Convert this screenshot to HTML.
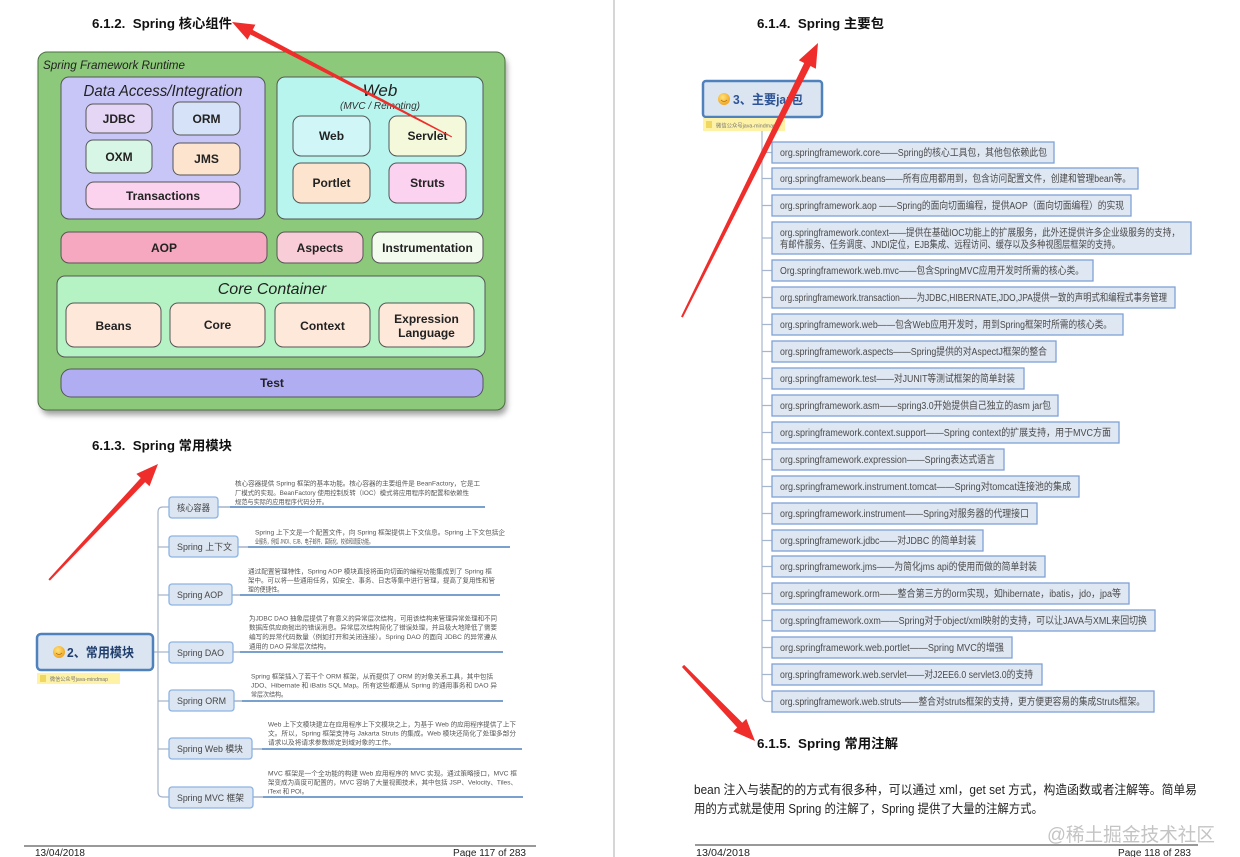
<!DOCTYPE html>
<html><head><meta charset="utf-8"><style>
html,body{margin:0;padding:0;background:#fff;}
svg{display:block;}
text{font-family:"Liberation Sans","Noto Sans CJK SC",sans-serif;}
</style></head><body>
<svg width="1240" height="857" viewBox="0 0 1240 857" xmlns="http://www.w3.org/2000/svg">
<defs>
<filter id="sh" x="-10%" y="-10%" width="120%" height="125%"><feGaussianBlur stdDeviation="3"/></filter>
<radialGradient id="emo" cx="40%" cy="35%" r="65%"><stop offset="0" stop-color="#ffe27a"/><stop offset="1" stop-color="#f0a623"/></radialGradient>
</defs>
<rect width="1240" height="857" fill="#fff"/>
<!-- page divider -->
<line x1="614" y1="0" x2="614" y2="857" stroke="#c8c8c8" stroke-width="1.5"/>

<!-- ============ LEFT PAGE ============ -->
<text x="92" y="28" font-weight="bold" font-size="13" fill="#111" textLength="140" lengthAdjust="spacingAndGlyphs">6.1.2.&#160; Spring 核心组件</text>

<!-- framework diagram -->
<rect x="41" y="57" width="466" height="358" rx="9" fill="#555" opacity="0.55" filter="url(#sh)"/>
<rect x="38" y="52" width="467" height="358" rx="9" fill="#8dc97b" stroke="#4d6f43" stroke-width="1"/>
<text x="43" y="69" font-style="italic" font-size="12" fill="#222" textLength="142" lengthAdjust="spacingAndGlyphs">Spring Framework Runtime</text>

<rect x="61" y="77" width="204" height="142" rx="8" fill="#c8c6f6" stroke="#555"/>
<text x="163" y="96" text-anchor="middle" font-style="italic" font-size="16" fill="#222" textLength="159" lengthAdjust="spacingAndGlyphs">Data Access/Integration</text>
<g font-weight="bold" font-size="12" fill="#222" text-anchor="middle">
<rect x="86" y="104" width="66" height="29" rx="7" fill="#e5d6f6" stroke="#555"/><text x="119" y="123">JDBC</text>
<rect x="173" y="102" width="67" height="33" rx="7" fill="#d6e2f8" stroke="#555"/><text x="206.5" y="123">ORM</text>
<rect x="86" y="140" width="66" height="33" rx="7" fill="#d8f6e5" stroke="#555"/><text x="119" y="161">OXM</text>
<rect x="173" y="143" width="67" height="32" rx="7" fill="#fce4cf" stroke="#555"/><text x="206.5" y="163">JMS</text>
<rect x="86" y="182" width="154" height="27" rx="8" fill="#fbd3ef" stroke="#555"/><text x="163" y="200">Transactions</text>
</g>

<rect x="277" y="77" width="206" height="142" rx="8" fill="#b8f5ee" stroke="#555"/>
<text x="380" y="96" text-anchor="middle" font-style="italic" font-size="17" fill="#222">Web</text>
<text x="380" y="109" text-anchor="middle" font-style="italic" font-size="10" fill="#333">(MVC / Remoting)</text>
<g font-weight="bold" font-size="12" fill="#222" text-anchor="middle">
<rect x="293" y="116" width="77" height="40" rx="8" fill="#d0f6f7" stroke="#555"/><text x="331.5" y="140">Web</text>
<rect x="389" y="116" width="77" height="40" rx="8" fill="#f4f9dc" stroke="#555"/><text x="427.5" y="140">Servlet</text>
<rect x="293" y="163" width="77" height="40" rx="8" fill="#fce4cf" stroke="#555"/><text x="331.5" y="187">Portlet</text>
<rect x="389" y="163" width="77" height="40" rx="8" fill="#fbd2ef" stroke="#555"/><text x="427.5" y="187">Struts</text>

<rect x="61" y="232" width="206" height="31" rx="8" fill="#f5a8bf" stroke="#555"/><text x="164" y="252">AOP</text>
<rect x="277" y="232" width="86" height="31" rx="8" fill="#f9cdd7" stroke="#555"/><text x="320" y="252">Aspects</text>
<rect x="372" y="232" width="111" height="31" rx="8" fill="#f3fbee" stroke="#555"/><text x="427.5" y="252">Instrumentation</text>
</g>

<rect x="57" y="276" width="428" height="81" rx="8" fill="#b5f3c5" stroke="#555"/>
<text x="272" y="294" text-anchor="middle" font-style="italic" font-size="16" fill="#222">Core Container</text>
<g font-weight="bold" font-size="12" fill="#222" text-anchor="middle">
<rect x="66" y="303" width="95" height="44" rx="8" fill="#fde8da" stroke="#555"/><text x="113.5" y="330">Beans</text>
<rect x="170" y="303" width="95" height="44" rx="8" fill="#fde8da" stroke="#555"/><text x="217.5" y="329">Core</text>
<rect x="275" y="303" width="95" height="44" rx="8" fill="#fde8da" stroke="#555"/><text x="322.5" y="330">Context</text>
<rect x="379" y="303" width="95" height="44" rx="8" fill="#fde8da" stroke="#555"/><text x="426.5" y="323">Expression</text><text x="426.5" y="337">Language</text>
<rect x="61" y="369" width="422" height="28" rx="10" fill="#b1adf3" stroke="#555"/><text x="272" y="387">Test</text>
</g>

<text x="92" y="450" font-weight="bold" font-size="13" fill="#111" textLength="140" lengthAdjust="spacingAndGlyphs">6.1.3.&#160; Spring 常用模块</text>

<!-- mind map left -->
<g stroke="#a3b2c8" stroke-width="1.2" fill="none">
<path d="M158,512 L158,792"/>
<path d="M158,512 Q158,507 163,507 L169,507"/>
<path d="M158,547 L169,547"/>
<path d="M158,595 L169,595"/>
<path d="M153,652 L169,652"/>
<path d="M158,701 L169,701"/>
<path d="M158,749 L169,749"/>
<path d="M158,792 Q158,797 163,797 L169,797"/>
</g>
<!-- central node -->
<rect x="37" y="634" width="116" height="36" rx="4" fill="#dbe5f1" stroke="#4f81bd" stroke-width="2.5"/>
<circle cx="59" cy="652" r="6" fill="url(#emo)"/>
<path d="M56,653 Q59,656 62,653" stroke="#b46a10" stroke-width="0.8" fill="none"/>
<text x="67" y="657" font-weight="bold" font-size="13" fill="#213f6e" textLength="67" lengthAdjust="spacingAndGlyphs">2、常用模块</text>
<rect x="37" y="673" width="83" height="11" fill="#fdf2a6"/>
<rect x="40" y="675" width="6" height="7" fill="#f0d860"/>
<text x="50" y="681" font-size="5.5" fill="#777" textLength="58" lengthAdjust="spacingAndGlyphs">微信公众号java-mindmap</text>

<!-- underlines -->
<g stroke-width="1.5">
<line x1="218" y1="507" x2="230" y2="507" stroke="#a3b2c8"/><line x1="230" y1="507" x2="485" y2="507" stroke="#4f81bd"/>
<line x1="238" y1="547" x2="248" y2="547" stroke="#a3b2c8"/><line x1="248" y1="547" x2="510" y2="547" stroke="#4f81bd"/>
<line x1="232" y1="595" x2="240" y2="595" stroke="#a3b2c8"/><line x1="240" y1="595" x2="500" y2="595" stroke="#4f81bd"/>
<line x1="233" y1="652" x2="240" y2="652" stroke="#a3b2c8"/><line x1="240" y1="652" x2="503" y2="652" stroke="#4f81bd"/>
<line x1="234" y1="701" x2="242" y2="701" stroke="#a3b2c8"/><line x1="242" y1="701" x2="503" y2="701" stroke="#4f81bd"/>
<line x1="252" y1="749" x2="262" y2="749" stroke="#a3b2c8"/><line x1="262" y1="749" x2="522" y2="749" stroke="#4f81bd"/>
<line x1="253" y1="797" x2="263" y2="797" stroke="#a3b2c8"/><line x1="263" y1="797" x2="523" y2="797" stroke="#4f81bd"/>
</g>

<!-- nodes -->
<g fill="#dce6f2" stroke="#8db3e2" stroke-width="1.3">
<rect x="169" y="497" width="49" height="21" rx="3"/>
<rect x="169" y="536" width="69" height="21" rx="3"/>
<rect x="169" y="584" width="63" height="21" rx="3"/>
<rect x="169" y="642" width="64" height="21" rx="3"/>
<rect x="169" y="690" width="65" height="21" rx="3"/>
<rect x="169" y="738" width="83" height="21" rx="3"/>
<rect x="169" y="787" width="84" height="21" rx="3"/>
</g>
<g font-size="9" fill="#444" lengthAdjust="spacingAndGlyphs">
<text x="177" y="511" textLength="33" lengthAdjust="spacingAndGlyphs">核心容器</text>
<text x="177" y="550" textLength="55" lengthAdjust="spacingAndGlyphs">Spring 上下文</text>
<text x="177" y="598" textLength="46" lengthAdjust="spacingAndGlyphs">Spring AOP</text>
<text x="177" y="656" textLength="47" lengthAdjust="spacingAndGlyphs">Spring DAO</text>
<text x="177" y="704" textLength="49" lengthAdjust="spacingAndGlyphs">Spring ORM</text>
<text x="177" y="752" textLength="66" lengthAdjust="spacingAndGlyphs">Spring Web 模块</text>
<text x="177" y="801" textLength="67" lengthAdjust="spacingAndGlyphs">Spring MVC 框架</text>
</g>

<!-- descriptions -->
<g font-size="6.5" fill="#555">
<text x="235" y="485.5" textLength="245" lengthAdjust="spacingAndGlyphs">核心容器提供 Spring 框架的基本功能。核心容器的主要组件是 BeanFactory，它是工</text>
<text x="235" y="495" textLength="234" lengthAdjust="spacingAndGlyphs">厂模式的实现。BeanFactory 使用控制反转（IOC）模式将应用程序的配置和依赖性</text>
<text x="235" y="504" textLength="93" lengthAdjust="spacingAndGlyphs">规范与实际的应用程序代码分开。</text>

<text x="255" y="534.5" textLength="250" lengthAdjust="spacingAndGlyphs">Spring 上下文是一个配置文件，向 Spring 框架提供上下文信息。Spring 上下文包括企</text>
<text x="255" y="543.5" textLength="118" lengthAdjust="spacingAndGlyphs">业服务，例如 JNDI、EJB、电子邮件、国际化、校验和调度功能。</text>

<text x="248" y="573.5" textLength="244" lengthAdjust="spacingAndGlyphs">通过配置管理特性，Spring AOP 模块直接将面向切面的编程功能集成到了 Spring 框</text>
<text x="248" y="582.5" textLength="247" lengthAdjust="spacingAndGlyphs">架中。可以将一些通用任务，如安全、事务、日志等集中进行管理，提高了复用性和管</text>
<text x="248" y="591.5" textLength="35" lengthAdjust="spacingAndGlyphs">理的便捷性。</text>

<text x="249" y="620.5" textLength="248" lengthAdjust="spacingAndGlyphs">为JDBC DAO 抽象层提供了有意义的异常层次结构，可用该结构来管理异常处理和不同</text>
<text x="249" y="629.5" textLength="248" lengthAdjust="spacingAndGlyphs">数据库供应商抛出的错误消息。异常层次结构简化了错误处理，并且极大地降低了需要</text>
<text x="249" y="639" textLength="248" lengthAdjust="spacingAndGlyphs">编写的异常代码数量（例如打开和关闭连接）。Spring DAO 的面向 JDBC 的异常遵从</text>
<text x="249" y="648.5" textLength="81" lengthAdjust="spacingAndGlyphs">通用的 DAO 异常层次结构。</text>

<text x="251" y="678.5" textLength="242" lengthAdjust="spacingAndGlyphs">Spring 框架插入了若干个 ORM 框架，从而提供了 ORM 的对象关系工具，其中包括</text>
<text x="251" y="687.5" textLength="246" lengthAdjust="spacingAndGlyphs">JDO、Hibernate 和 iBatis SQL Map。所有这些都遵从 Spring 的通用事务和 DAO 异</text>
<text x="251" y="696.5" textLength="36" lengthAdjust="spacingAndGlyphs">常层次结构。</text>

<text x="268" y="726.5" textLength="248" lengthAdjust="spacingAndGlyphs">Web 上下文模块建立在应用程序上下文模块之上，为基于 Web 的应用程序提供了上下</text>
<text x="268" y="735.5" textLength="248" lengthAdjust="spacingAndGlyphs">文。所以，Spring 框架支持与 Jakarta Struts 的集成。Web 模块还简化了处理多部分</text>
<text x="268" y="744.5" textLength="127" lengthAdjust="spacingAndGlyphs">请求以及将请求参数绑定到域对象的工作。</text>

<text x="268" y="775.5" textLength="249" lengthAdjust="spacingAndGlyphs">MVC 框架是一个全功能的构建 Web 应用程序的 MVC 实现。通过策略接口，MVC 框</text>
<text x="268" y="784.5" textLength="249" lengthAdjust="spacingAndGlyphs">架变成为高度可配置的，MVC 容纳了大量视图技术，其中包括 JSP、Velocity、Tiles、</text>
<text x="268" y="793.5" textLength="40" lengthAdjust="spacingAndGlyphs">iText 和 POI。</text>
</g>

<!-- left footer -->
<line x1="24" y1="846" x2="536" y2="846" stroke="#333" stroke-width="1"/>
<text x="35" y="856" font-size="10" fill="#222" textLength="50" lengthAdjust="spacingAndGlyphs">13/04/2018</text>
<text x="453" y="856" font-size="10" fill="#222" textLength="73" lengthAdjust="spacingAndGlyphs">Page 117 of 283</text>

<!-- ============ RIGHT PAGE ============ -->
<text x="757" y="28" font-weight="bold" font-size="13" fill="#111" textLength="127" lengthAdjust="spacingAndGlyphs">6.1.4.&#160; Spring 主要包</text>

<rect x="703" y="81" width="119" height="36" rx="3" fill="#dbe5f1" stroke="#4f81bd" stroke-width="2.5"/>
<circle cx="724" cy="99" r="6" fill="url(#emo)"/>
<path d="M721,100 Q724,103 727,100" stroke="#b46a10" stroke-width="0.8" fill="none"/>
<text x="733" y="104" font-weight="bold" font-size="13" fill="#2f5496" textLength="70" lengthAdjust="spacingAndGlyphs">3、主要jar包</text>
<rect x="703" y="118" width="82" height="13" fill="#fdf2a6"/>
<rect x="706" y="121" width="6" height="7" fill="#f0d860"/>
<text x="716" y="127.5" font-size="5.5" fill="#777" textLength="60" lengthAdjust="spacingAndGlyphs">微信公众号java-mindmap</text>

<g stroke="#a6b6cf" stroke-width="1.2" fill="none">
<path d="M762,131 L762,696 Q762,701.5 767,701.5 L772,701.5"/>
<path d="M762,152.5H772M762,178.5H772M762,205.5H772M762,238H772M762,270.5H772M762,297.5H772M762,324.5H772M762,351.5H772M762,378.5H772M762,405.5H772M762,432.5H772M762,459.5H772M762,486.5H772M762,513.5H772M762,540.5H772M762,566.5H772M762,593.5H772M762,620.5H772M762,647.5H772M762,674.5H772"/>
</g>

<g fill="#dfe7f2" stroke="#7fa2d6" stroke-width="1.3">
<rect x="772" y="142" width="282" height="21"/>
<rect x="772" y="168" width="366" height="21"/>
<rect x="772" y="195" width="359" height="21"/>
<rect x="772" y="222" width="419" height="32"/>
<rect x="772" y="260" width="321" height="21"/>
<rect x="772" y="287" width="403" height="21"/>
<rect x="772" y="314" width="351" height="21"/>
<rect x="772" y="341" width="284" height="21"/>
<rect x="772" y="368" width="252" height="21"/>
<rect x="772" y="395" width="286" height="21"/>
<rect x="772" y="422" width="347" height="21"/>
<rect x="772" y="449" width="232" height="21"/>
<rect x="772" y="476" width="307" height="21"/>
<rect x="772" y="503" width="265" height="21"/>
<rect x="772" y="530" width="211" height="21"/>
<rect x="772" y="556" width="273" height="21"/>
<rect x="772" y="583" width="357" height="21"/>
<rect x="772" y="610" width="383" height="21"/>
<rect x="772" y="637" width="240" height="21"/>
<rect x="772" y="664" width="270" height="21"/>
<rect x="772" y="691" width="382" height="21"/>
</g>
<g font-size="10" fill="#4a4a4a">
<text x="780" y="156" textLength="267" lengthAdjust="spacingAndGlyphs">org.springframework.core——Spring的核心工具包，其他包依赖此包</text>
<text x="780" y="182" textLength="351" lengthAdjust="spacingAndGlyphs">org.springframework.beans——所有应用都用到，包含访问配置文件，创建和管理bean等。</text>
<text x="780" y="209" textLength="344" lengthAdjust="spacingAndGlyphs">org.springframework.aop ——Spring的面向切面编程，提供AOP（面向切面编程）的实现</text>
<text x="780" y="236" textLength="400" lengthAdjust="spacingAndGlyphs">org.springframework.context——提供在基础IOC功能上的扩展服务，此外还提供许多企业级服务的支持，</text>
<text x="780" y="248" textLength="340" lengthAdjust="spacingAndGlyphs">有邮件服务、任务调度、JNDI定位，EJB集成、远程访问、缓存以及多种视图层框架的支持。</text>
<text x="780" y="274" textLength="304" lengthAdjust="spacingAndGlyphs">Org.springframework.web.mvc——包含SpringMVC应用开发时所需的核心类。</text>
<text x="780" y="301" textLength="387" lengthAdjust="spacingAndGlyphs">org.springframework.transaction——为JDBC,HIBERNATE,JDO,JPA提供一致的声明式和编程式事务管理</text>
<text x="780" y="328" textLength="332" lengthAdjust="spacingAndGlyphs">org.springframework.web——包含Web应用开发时，用到Spring框架时所需的核心类。</text>
<text x="780" y="355" textLength="267" lengthAdjust="spacingAndGlyphs">org.springframework.aspects——Spring提供的对AspectJ框架的整合</text>
<text x="780" y="382" textLength="235" lengthAdjust="spacingAndGlyphs">org.springframework.test——对JUNIT等测试框架的简单封装</text>
<text x="780" y="409" textLength="271" lengthAdjust="spacingAndGlyphs">org.springframework.asm——spring3.0开始提供自己独立的asm jar包</text>
<text x="780" y="436" textLength="331" lengthAdjust="spacingAndGlyphs">org.springframework.context.support——Spring context的扩展支持，用于MVC方面</text>
<text x="780" y="463" textLength="215" lengthAdjust="spacingAndGlyphs">org.springframework.expression——Spring表达式语言</text>
<text x="780" y="490" textLength="291" lengthAdjust="spacingAndGlyphs">org.springframework.instrument.tomcat——Spring对tomcat连接池的集成</text>
<text x="780" y="517" textLength="249" lengthAdjust="spacingAndGlyphs">org.springframework.instrument——Spring对服务器的代理接口</text>
<text x="780" y="544" textLength="196" lengthAdjust="spacingAndGlyphs">org.springframework.jdbc——对JDBC 的简单封装</text>
<text x="780" y="570" textLength="257" lengthAdjust="spacingAndGlyphs">org.springframework.jms——为简化jms api的使用而做的简单封装</text>
<text x="780" y="597" textLength="341" lengthAdjust="spacingAndGlyphs">org.springframework.orm——整合第三方的orm实现，如hibernate，ibatis，jdo，jpa等</text>
<text x="780" y="624" textLength="367" lengthAdjust="spacingAndGlyphs">org.springframework.oxm——Spring对于object/xml映射的支持，可以让JAVA与XML来回切换</text>
<text x="780" y="651" textLength="224" lengthAdjust="spacingAndGlyphs">org.springframework.web.portlet——Spring MVC的增强</text>
<text x="780" y="678" textLength="253" lengthAdjust="spacingAndGlyphs">org.springframework.web.servlet——对J2EE6.0 servlet3.0的支持</text>
<text x="780" y="705" textLength="365" lengthAdjust="spacingAndGlyphs">org.springframework.web.struts——整合对struts框架的支持，更方便更容易的集成Struts框架。</text>
</g>

<text x="757" y="748" font-weight="bold" font-size="13" fill="#111" textLength="141" lengthAdjust="spacingAndGlyphs">6.1.5.&#160; Spring 常用注解</text>
<text x="694" y="794" font-size="12.5" fill="#222" textLength="503" lengthAdjust="spacingAndGlyphs">bean 注入与装配的的方式有很多种，可以通过 xml，get set 方式，构造函数或者注解等。简单易</text>
<text x="694" y="813" font-size="12.5" fill="#222" textLength="349" lengthAdjust="spacingAndGlyphs">用的方式就是使用 Spring 的注解了，Spring 提供了大量的注解方式。</text>

<text x="1047" y="841" font-size="19" fill="#c4c4c4" textLength="168" lengthAdjust="spacingAndGlyphs">@稀土掘金技术社区</text>

<line x1="695" y1="845" x2="1198" y2="845" stroke="#333" stroke-width="1"/>
<text x="696" y="856" font-size="10" fill="#222" textLength="54" lengthAdjust="spacingAndGlyphs">13/04/2018</text>
<text x="1118" y="856" font-size="10" fill="#222" textLength="73" lengthAdjust="spacingAndGlyphs">Page 118 of 283</text>

<!-- ============ RED ARROWS ============ -->
<g fill="#ef2d2a">
<polygon transform="translate(232,22) rotate(-152.4)" points="-248,-0.6 -22,-2.6 -22,-8.5 0,0 -22,8.5 -22,2.6 -248,0.6"/>
<polygon transform="translate(158,464) rotate(-46.8)" points="-159,-1 -22,-3 -22,-9 0,0 -22,9 -22,3 -159,1"/>
<polygon transform="translate(818,43) rotate(-63.6)" points="-306,-1 -24,-3.5 -24,-9.5 0,0 -24,9.5 -24,3.5 -306,1"/>
<polygon transform="translate(755,741) rotate(46.2)" points="-104,-1.5 -22,-3.5 -22,-9 0,0 -22,9 -22,3.5 -104,1.5"/>
</g>
</svg>
</body></html>
